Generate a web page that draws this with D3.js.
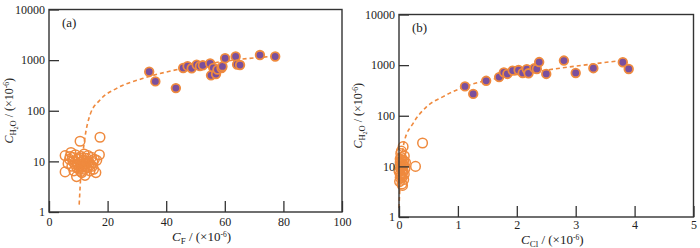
<!DOCTYPE html>
<html>
<head>
<meta charset="utf-8">
<script src="https://cdn.jsdelivr.net/npm/d3@7"></script>
<style>
  body { margin: 0; background: #fff; }
  svg text { font-family: "Liberation Serif", "Times New Roman", serif; fill: #222; }
</style>
</head>
<body>
<script>
// panel (a): F content vs water content
var aFilledX = [34.2, 36.3, 43.3, 45.8, 47.3, 48.7, 50.4, 51.5, 52.5, 55, 56.1, 55.3, 57, 57.5, 58.9, 59.2, 60.1, 63.7, 64.2, 65.2, 72, 77.2];
var aFilledY = [590, 380, 280, 700, 760, 690, 810, 760, 790, 860, 700, 500, 530, 650, 700, 750, 1090, 1180, 820, 800, 1260, 1180];
var aOpenX = [5.5, 5.5, 6.5, 7, 7.5, 7.8, 8, 8.5, 9, 9, 9.4, 9.8, 10, 10.3, 10.6, 10.8, 11, 11.2, 11.5, 11.8, 12, 12.3, 12.5, 12.8, 13, 13.3, 13.5, 14, 14.2, 14.5, 15, 15.2, 15.5, 16.3, 16, 17.2, 17.4, 8.2, 10.5, 12,
              9.5, 11.3, 12.6, 10.2, 13.8, 8.8, 11.9, 14.8, 7.2, 10.9];
var aOpenY = [13, 6.2, 9, 11, 15, 8, 12, 6.5, 10, 13.5, 5, 8.5, 11, 7, 25, 9.5, 12.5, 6, 8, 10.5, 14, 5.3, 9, 11.5, 7.5, 13, 10, 6.5, 8.5, 12, 9.5, 7, 11, 10.5, 6, 13.5, 30, 10, 8, 7,
              7.5, 9, 10, 11.8, 9.2, 8.8, 7.8, 8, 12.5, 6.3];
var aCurveX = [10.3, 10.9, 12.0, 14.0, 17.4, 23.1, 32.2, 45.8, 63, 77.2];
var aCurveY = [1.4, 5.8, 23, 83, 163, 277, 437, 690, 1000, 1200];

// panel (b): Cl content vs water content
var bFilledX = [1.12, 1.26, 1.48, 1.70, 1.78, 1.84, 1.93, 2.03, 2.10, 2.17, 2.20, 2.30, 2.34, 2.38, 2.50, 2.80, 3.0, 3.30, 3.80, 3.90];
var bFilledY = [380, 270, 490, 580, 720, 670, 780, 800, 700, 830, 690, 870, 840, 1150, 670, 1230, 700, 870, 1140, 840];
var bOpenX = [0.01, 0.02, 0.03, 0.02, 0.04, 0.05, 0.06, 0.03, 0.07, 0.08, 0.05, 0.01, 0.09, 0.1, 0.04, 0.06, 0.02, 0.08, 0.11, 0.03, 0.07, 0.05, 0.09, 0.28, 0.40,
              0.0, 0.04, 0.06, 0.02, 0.08, 0.05, 0.03];
var bOpenY = [5, 7, 9, 12, 15, 6, 11, 18, 8, 13, 4.5, 10, 16, 9, 20, 4.2, 14, 5.5, 12, 6.5, 24.5, 8.5, 7, 10, 29,
              8, 10, 7.5, 6, 10.5, 13, 11];
var bCurveX = [0.0, 0.02, 0.05, 0.09, 0.24, 0.47, 0.75, 1.12, 1.75, 2.51, 3.13, 3.72];
var bCurveY = [1.5, 5, 15, 31, 71, 151, 239, 376, 575, 800, 1000, 1210];

var yTicks = [1, 10, 100, 1000, 10000];

var orange = "#ef8a3e", purple = "#7a4f9d";

var svg = d3.select("body").append("svg")
  .attr("width", 700)
  .attr("height", 248);

function panel(opt) {
  var g = svg.append("g")
    .attr("transform", "translate(" + opt.left + "," + opt.top + ")");

  var x = d3.scaleLinear().domain(opt.xDomain).range([0, opt.w]);
  var y = d3.scaleLog().domain([1, 10000]).range([opt.h, 0]);

  var xAxis = d3.axisBottom(x).tickValues(opt.xTicks).tickSize(-11).tickPadding(opt.xpad).tickFormat(d3.format("d"));
  var yAxis = d3.axisLeft(y).tickValues(yTicks).tickSize(-10).tickPadding(4).tickFormat(d3.format("d"));

  // dashed trend curve
  var line = d3.line()
    .x(function(d){ return x(d[0]); })
    .y(function(d){ return y(d[1]); })
    .curve(d3.curveMonotoneX);
  var cdata = opt.cx.map(function(v, i){ return [v, opt.cy[i]]; });
  g.append("path")
    .attr("d", line(cdata))
    .attr("fill", "none")
    .attr("stroke", orange)
    .attr("stroke-width", 1.6)
    .attr("stroke-dasharray", "4,3");

  // open circles
  g.selectAll(".open")
    .data(opt.ox.map(function(v, i){ return [v, opt.oy[i]]; }))
    .enter().append("circle")
    .attr("cx", function(d){ return x(d[0]); })
    .attr("cy", function(d){ return y(d[1]); })
    .attr("r", 4.8)
    .attr("fill", "none")
    .attr("stroke", orange)
    .attr("stroke-width", 1.5);

  // filled circles
  g.selectAll(".filled")
    .data(opt.fx.map(function(v, i){ return [v, opt.fy[i]]; }))
    .enter().append("circle")
    .attr("cx", function(d){ return x(d[0]); })
    .attr("cy", function(d){ return y(d[1]); })
    .attr("r", 4.3)
    .attr("fill", purple)
    .attr("stroke", orange)
    .attr("stroke-width", 1.8);

  var ax = g.append("g")
    .attr("transform", "translate(0," + opt.h + ")")
    .call(xAxis);
  var ay = g.append("g").call(yAxis);
  [ax, ay].forEach(function(a){
    a.select(".domain").remove();
    a.selectAll("line").attr("stroke", "#333").attr("stroke-width", 1.3);
    a.selectAll("text").attr("font-size", 12).attr("fill", "#222")
      .attr("font-family", "Liberation Serif, serif");
  });

  g.append("rect")
    .attr("width", opt.w)
    .attr("height", opt.h)
    .attr("fill", "none")
    .attr("stroke", "#333")
    .attr("stroke-width", 1.4);

  g.append("text")
    .attr("x", 13)
    .attr("y", 17)
    .attr("font-size", 13)
    .text(opt.tag);

  // x label
  var xl = g.append("text")
    .attr("x", opt.w / 2 + 6)
    .attr("y", opt.h + opt.xlabOff)
    .attr("text-anchor", "middle")
    .attr("font-size", 13);
  xl.append("tspan").attr("font-style", "italic").text("C");
  xl.append("tspan").attr("font-size", 9).attr("dy", 3).text(opt.xsub);
  xl.append("tspan").attr("dy", -3).text(" / (×10");
  xl.append("tspan").attr("font-size", 7.5).attr("dy", -4).text("-6");
  xl.append("tspan").attr("dy", 4).text(")");

  // y label
  var yl = g.append("text")
    .attr("transform", "translate(" + opt.ylabX + "," + (opt.h / 2) + ") rotate(-90)")
    .attr("text-anchor", "middle")
    .attr("font-size", 12);
  yl.append("tspan").attr("font-style", "italic").text("C");
  yl.append("tspan").attr("font-size", 8.5).attr("dy", 3).text("H");
  yl.append("tspan").attr("font-size", 6).attr("dy", 2).text("2");
  yl.append("tspan").attr("font-size", 8.5).attr("dy", -2).text("O");
  yl.append("tspan").attr("dy", -3).text(" / (×10");
  yl.append("tspan").attr("font-size", 7.5).attr("dy", -4).text("-6");
  yl.append("tspan").attr("dy", 4).text(")");
}

panel({
  left: 49, top: 9.5, w: 293, h: 202.5,
  xDomain: [0, 100], xTicks: [0, 20, 40, 60, 80, 100],
  fx: aFilledX, fy: aFilledY, ox: aOpenX, oy: aOpenY, cx: aCurveX, cy: aCurveY,
  tag: "(a)", xsub: "F", xpad: 5, xlabOff: 29, ylabX: -36
});

panel({
  left: 399, top: 14.5, w: 294.5, h: 202.5,
  xDomain: [0, 5], xTicks: [0, 1, 2, 3, 4, 5],
  fx: bFilledX, fy: bFilledY, ox: bOpenX, oy: bOpenY, cx: bCurveX, cy: bCurveY,
  tag: "(b)", xsub: "Cl", xpad: 3, xlabOff: 27, ylabX: -37
});
</script>
</body>
</html>
